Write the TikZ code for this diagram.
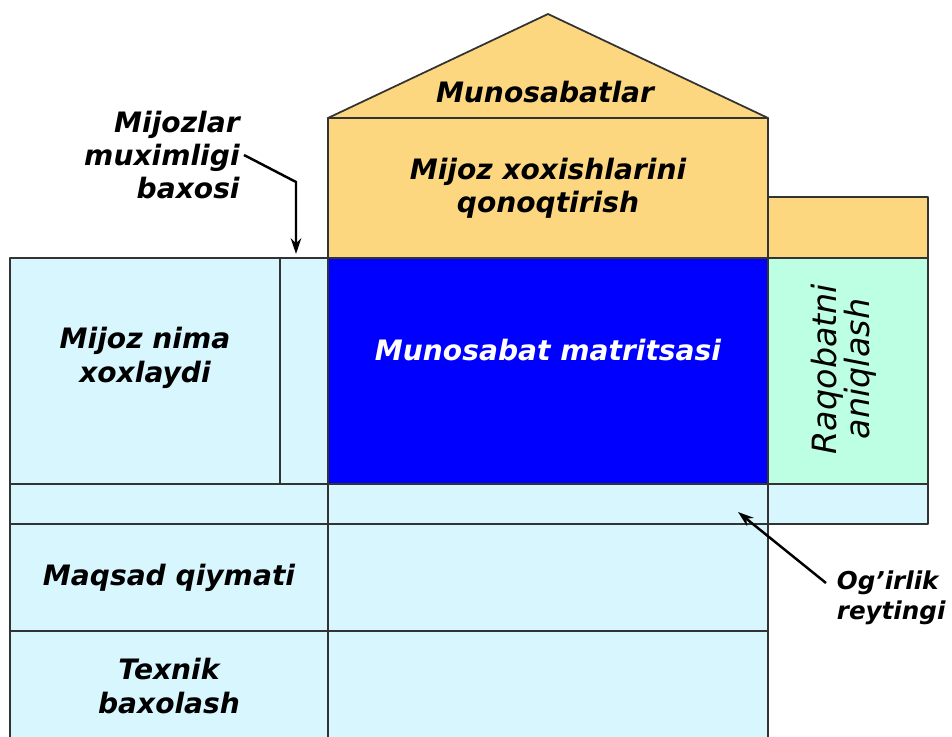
\documentclass[tikz,border=0pt]{standalone}
\usepackage{fontspec}
\setmainfont{DejaVu Sans}[ItalicFont={DejaVu Sans Oblique},BoldFont={DejaVu Sans Bold},BoldItalicFont={DejaVu Sans Bold Oblique}]
\usetikzlibrary{arrows.meta}
\definecolor{cellblue}{HTML}{D8F6FE}
\definecolor{roofyellow}{HTML}{FCD77F}
\definecolor{matrixblue}{HTML}{0000FF}
\definecolor{compgreen}{HTML}{BDFFE2}
\definecolor{edge}{HTML}{333333}
\begin{document}
\begin{tikzpicture}[x=0.02cm, y=-0.02cm, >={Stealth[length=9pt,width=6pt]}, line width=1pt, line join=round,
	cell/.style={draw=edge, fill=cellblue},
	roof/.style={draw=edge, fill=roofyellow},
	txt/.style={font=\fontsize{16}{19}\selectfont\bfseries\itshape, align=center, inner sep=2pt},
	callout/.style={->, line width=1.4pt, draw=black}]
	
	% 1. Khung hinh
	\useasboundingbox (0,0) rectangle (952,736);
	\clip (0,0) rectangle (952,736);
	
	% 2. Mai nha
	\draw[roof] (328,118) -- (548,14) -- (768,118) -- cycle;
	\draw[roof] (328,118) rectangle (768,258);
	\draw[roof] (768,197) rectangle (928,258);
	
	% 3. Cot trai
	\draw[cell] (10,258) rectangle (328,484);
	\draw[draw=edge] (280,258) -- (280,484);
	\draw[cell] (10,484) rectangle (328,524);
	\draw[cell] (10,524) rectangle (328,631);
	\draw[cell] (10,631) rectangle (328,750);
	
	% 4. Ma tran va cot giua
	\draw[draw=edge, fill=matrixblue] (328,258) rectangle (768,484);
	\draw[cell] (328,484) rectangle (768,524);
	\draw[cell] (328,524) rectangle (768,631);
	\draw[cell] (328,631) rectangle (768,750);
	
	% 5. Cot phai
	\draw[draw=edge, fill=compgreen] (768,258) rectangle (928,484);
	\draw[cell] (768,484) rectangle (928,524);
	
	% 6. Chu
	\node[txt] (rel) at (545,92) {Munosabatlar};
	\node[txt] (sat) at (548,188) {Mijoz xoxishlarini\\qonoqtirish};
	\node[txt] (want) at (145,358) {Mijoz nima\\xoxlaydi};
	\node[txt, text=white] (matrix) at (548,350) {Munosabat matritsasi};
	\node[font=\fontsize{19}{19}\selectfont\itshape, align=center, rotate=90] (comp) at (844,369) {Raqobatni\\aniqlash};
	\node[txt] (goal) at (169,578) {Maqsad qiymati};
	\node[txt] (tech) at (169,686) {Texnik\\baxolash};
	\node[txt, align=right, anchor=east] (imp) at (244,155) {Mijozlar\\muximligi\\baxosi};
	\node[txt, font=\fontsize{14}{17}\selectfont\bfseries\itshape, align=left, anchor=north west, inner sep=0pt] (rating) at (836,570) {Og’irlik\\reytingi};
	
	% 7. Mui ten
	\coordinate (impbend) at (296,182);
	\coordinate (imptip) at (296,254);
	\coordinate (ratstart) at (826,583);
	\coordinate (rattip) at (738,512);
	\draw[callout] (imp.east) -- (impbend) -- (imptip);
	\draw[callout] (ratstart) -- (rattip);
	
\end{tikzpicture}
\end{document}
